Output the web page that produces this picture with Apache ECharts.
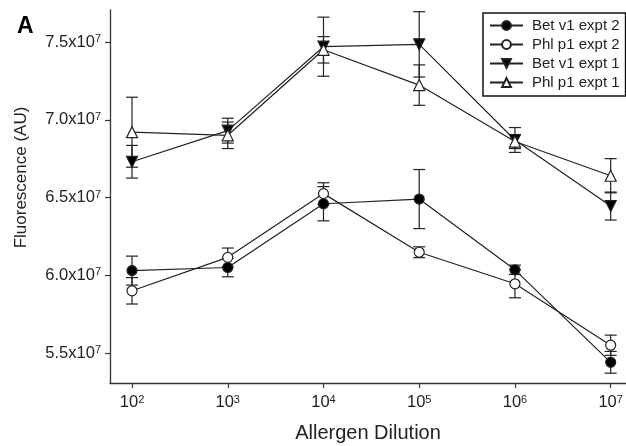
<!DOCTYPE html>
<html>
<head>
<meta charset="utf-8">
<script src="https://cdn.jsdelivr.net/npm/echarts@6/dist/echarts.min.js"></script>
<style>
  html, body { margin: 0; padding: 0; background: #fff; }
  #chart { width: 626px; height: 446px; }
</style>
</head>
<body>
<div id="chart"></div>
<script>
// dilution as power of ten (10^2 ... 10^7)
const dilutionExp = [2, 3, 4, 5, 6, 7];
const yTicks = [5.5, 6.0, 6.5, 7.0, 7.5]; // x10^7

// fluorescence values in units of 10^7 AU
const betE2 = [6.03, 6.05, 6.46, 6.49, 6.035, 5.44];
const betE2Err = [0.093, 0.06, 0.11, 0.19, 0.03, 0.07];
const phlE2 = [5.90, 6.115, 6.525, 6.148, 5.945, 5.55];
const phlE2Err = [0.085, 0.06, 0.07, 0.035, 0.09, 0.065];
const betE1 = [6.73, 6.93, 7.47, 7.485, 6.87, 6.445];
const betE1Err = [0.105, 0.08, 0.19, 0.21, 0.08, 0.09];
const phlE1 = [6.92, 6.90, 7.45, 7.223, 6.86, 6.64];
const phlE1Err = [0.225, 0.085, 0.085, 0.13, 0.045, 0.11];

const font = "'Liberation Sans', Arial, sans-serif";
const ink = '#222';

const pts = (ys) => dilutionExp.map((x, i) => [x, ys[i]]);
const errPts = (ys, es) => dilutionExp.map((x, i) => [x, ys[i], es[i]]);

// vertical error bar with caps, placed through the axes
const errorBarItem = (params, api) => {
  const x = api.value(0), y = api.value(1), e = api.value(2);
  const hi = api.coord([x, y + e]);
  const lo = api.coord([x, y - e]);
  const w = 6;
  const style = { stroke: ink, lineWidth: 1.2 };
  return {
    type: 'group',
    children: [
      { type: 'line', shape: { x1: hi[0], y1: hi[1], x2: lo[0], y2: lo[1] }, style },
      { type: 'line', shape: { x1: hi[0] - w, y1: hi[1], x2: hi[0] + w, y2: hi[1] }, style },
      { type: 'line', shape: { x1: lo[0] - w, y1: lo[1], x2: lo[0] + w, y2: lo[1] }, style }
    ]
  };
};

const lineSeries = (name, ys, symbol, filled, rotate, size) => ({
  name: name,
  type: 'line',
  data: pts(ys),
  symbol: symbol,
  symbolSize: size,
  symbolRotate: rotate,
  showAllSymbol: true,
  z: 5,
  lineStyle: { color: ink, width: 1.2 },
  itemStyle: { color: filled ? '#000' : '#fff', borderColor: ink, borderWidth: 1.2 },
  emphasis: { disabled: true }
});

const errSeries = (ys, es) => ({
  type: 'custom',
  data: errPts(ys, es),
  renderItem: errorBarItem,
  encode: { x: 0, y: 1 },
  z: 2,
  silent: true
});

const chart = echarts.init(document.getElementById('chart'));
chart.setOption({
  animation: false,
  backgroundColor: '#fff',
  title: {
    text: 'A',
    left: 17,
    top: 15,
    padding: 0,
    textStyle: { fontFamily: font, fontSize: 23, fontWeight: 'bold', color: '#000' }
  },
  grid: { left: 110, right: 0, top: 10, bottom: 63, outerBoundsMode: 'none', containLabel: false },
  legend: {
    orient: 'vertical',
    left: 483,
    top: 13,
    padding: [5, 6, 6, 6],
    itemGap: 4,
    itemWidth: 33,
    itemHeight: 11,
    borderColor: '#111',
    borderWidth: 1.5,
    textStyle: { fontFamily: font, fontSize: 15, color: ink, lineHeight: 15, padding: [0, 0, 0, 4] },
    data: ['Bet v1 expt 2', 'Phl p1 expt 2', 'Bet v1 expt 1', 'Phl p1 expt 1']
  },
  xAxis: {
    type: 'value',
    min: 1.77,
    max: 7.16,
    name: 'Allergen Dilution',
    nameLocation: 'middle',
    nameGap: 40,
    nameTextStyle: { fontFamily: font, fontSize: 20, color: ink },
    splitLine: { show: false },
    axisLine: { lineStyle: { color: '#333', width: 1.3 } },
    axisTick: { customValues: dilutionExp, length: 5, lineStyle: { color: '#333', width: 1.2 } },
    axisLabel: {
      customValues: dilutionExp,
      margin: 11,
      formatter: (v) => '{b|10}{s|' + v + '}',
      rich: {
        b: { fontFamily: font, fontSize: 16.5, color: ink, lineHeight: 17 },
        s: { fontFamily: font, fontSize: 11, color: ink, verticalAlign: 'top', lineHeight: 11 }
      }
    }
  },
  yAxis: {
    type: 'value',
    min: 5.307,
    max: 7.706,
    name: 'Fluorescence (AU)',
    nameLocation: 'middle',
    nameGap: 80,
    nameTextStyle: { fontFamily: font, fontSize: 17, color: ink, padding: [0, 0, 0, 38] },
    splitLine: { show: false },
    axisLine: { lineStyle: { color: '#333', width: 1.3 } },
    axisTick: { customValues: yTicks, length: 5, lineStyle: { color: '#333', width: 1.2 } },
    axisLabel: {
      customValues: yTicks,
      margin: 9,
      formatter: (v) => '{b|' + v.toFixed(1) + 'x10}{s|7}',
      rich: {
        b: { fontFamily: font, fontSize: 16.5, color: ink, lineHeight: 17 },
        s: { fontFamily: font, fontSize: 11, color: ink, verticalAlign: 'top', lineHeight: 11 }
      }
    }
  },
  series: [
    errSeries(betE2, betE2Err),
    errSeries(phlE2, phlE2Err),
    errSeries(betE1, betE1Err),
    errSeries(phlE1, phlE1Err),
    lineSeries('Bet v1 expt 2', betE2, 'circle', true, 0, 10),
    lineSeries('Phl p1 expt 2', phlE2, 'circle', false, 0, 10),
    lineSeries('Bet v1 expt 1', betE1, 'triangle', true, 180, 11),
    lineSeries('Phl p1 expt 1', phlE1, 'triangle', false, 0, 11)
  ]
});
</script>
</body>
</html>
